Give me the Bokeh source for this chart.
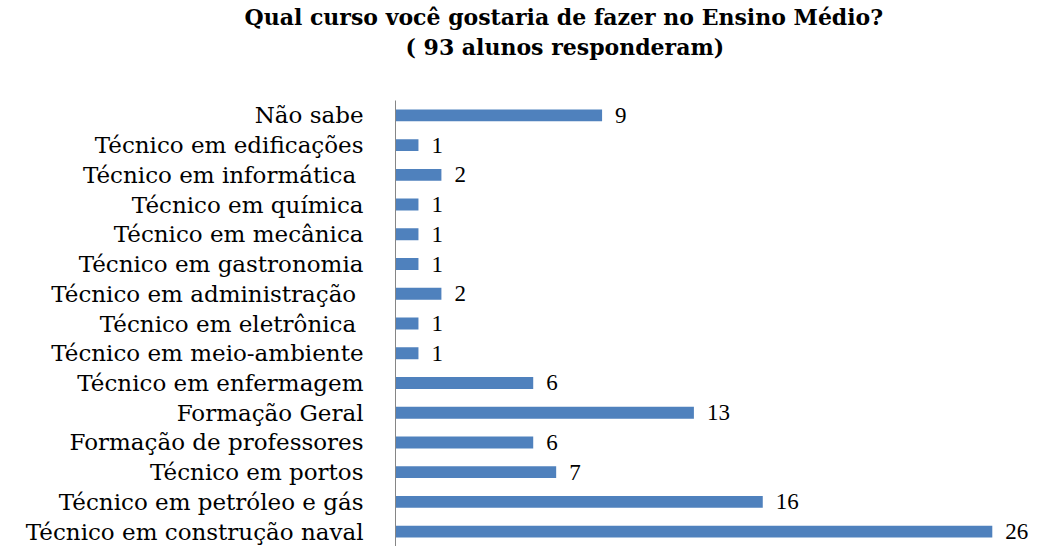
from bokeh.plotting import figure
from bokeh.models import Range1d, FixedTicker, ColumnDataSource, Title, LabelSet
from bokeh.embed import file_html
from bokeh.resources import INLINE

categories = [
    "Técnico em construção naval",
    "Técnico em petróleo e gás",
    "Técnico em portos",
    "Formação de professores",
    "Formação Geral",
    "Técnico em enfermagem",
    "Técnico em meio-ambiente",
    "Técnico em eletrônica ",
    "Técnico em administração ",
    "Técnico em gastronomia",
    "Técnico em mecânica",
    "Técnico em química",
    "Técnico em informática ",
    "Técnico em edificações",
    "Não sabe",
]
counts = [26, 16, 7, 6, 13, 6, 1, 1, 2, 1, 1, 1, 2, 1, 9]

title_line1 = "Qual curso você gostaria de fazer no Ensino Médio?"
title_line2 = "( 93 alunos responderam)"

pos = list(range(len(categories)))
src = ColumnDataSource(dict(y=pos, v=counts, lbl=[str(c) for c in counts]))

p = figure(width=1040, height=546, output_backend="svg", toolbar_location=None,
           x_range=Range1d(0, 28.1), y_range=Range1d(-0.5, 14.5),
           min_border_left=395, min_border_right=0, min_border_top=100,
           min_border_bottom=0, title=None)

p.hbar(y="y", right="v", left=0, height=0.4, source=src,
       fill_color="#4F81BD", line_color=None)
labels = LabelSet(x="v", y="y", text="lbl", source=src, x_offset=13,
                  text_align="left", text_baseline="middle",
                  text_font="DejaVu Serif", text_font_size="23px", text_color="#000000")
p.add_layout(labels)

p.xaxis.visible = False
p.xgrid.visible = False
p.ygrid.visible = False
p.outline_line_color = None

ax = p.yaxis[0]
ax.ticker = FixedTicker(ticks=pos)
ax.major_label_overrides = {i: c for i, c in zip(pos, categories)}
ax.major_label_text_font = "DejaVu Serif"
ax.major_label_text_font_size = "23px"
ax.major_label_text_color = "#000000"
ax.major_label_standoff = 26
ax.major_tick_line_color = None
ax.minor_tick_line_color = None
ax.axis_line_color = "#868686"
ax.axis_line_width = 1

spacer = Title(text=" ", align="left", text_font="DejaVu Serif",
               text_font_size="21px", standoff=13)
t2 = Title(text=title_line2, align="left", offset=10,
           text_font="DejaVu Serif", text_font_size="22px", text_font_style="bold",
           text_color="#000000", standoff=2)
t1 = Title(text=title_line1, align="left", offset=-151,
           text_font="DejaVu Serif", text_font_size="22px", text_font_style="bold",
           text_color="#000000", standoff=2)
p.add_layout(spacer, "above")
p.add_layout(t2, "above")
p.add_layout(t1, "above")

open("out.html", "w").write(file_html(p, INLINE))
